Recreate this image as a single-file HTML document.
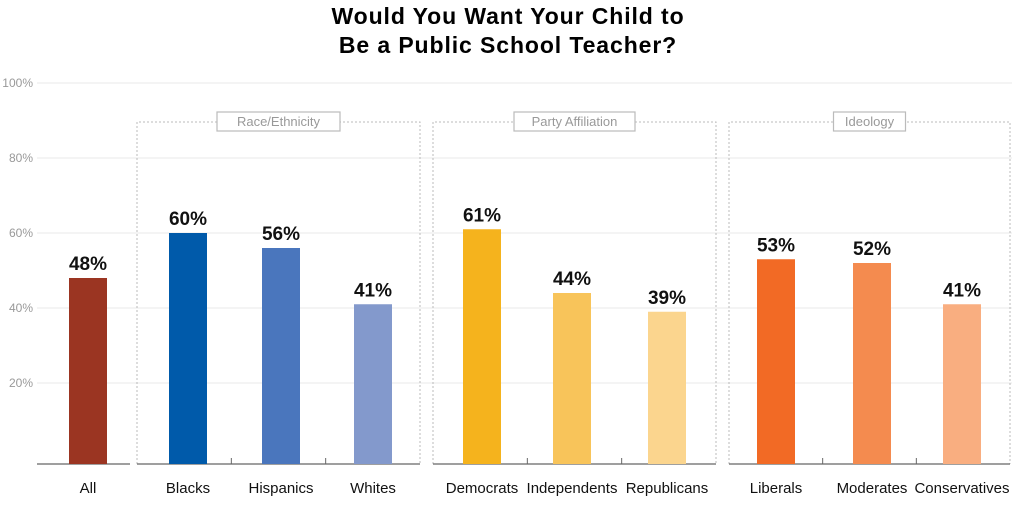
<!DOCTYPE html>
<html><head><meta charset="utf-8"><style>
body{margin:0;background:#fff;width:1017px;height:500px;overflow:hidden;font-family:"Liberation Sans",sans-serif}
</style></head><body>
<svg width="1017" height="500">
<text x="508" y="24" text-anchor="middle" font-size="23" font-weight="900" letter-spacing="0.9">Would You Want Your Child to</text>
<text x="508" y="53" text-anchor="middle" font-size="23" font-weight="900" letter-spacing="0.9">Be a Public School Teacher?</text>
<g id="grid"></g><g id="groups"></g><g id="bars"></g>
</svg>
<script>
const categories=["All","Blacks","Hispanics","Whites","Democrats","Independents","Republicans","Liberals","Moderates","Conservatives"];
const values=[48,60,56,41,61,44,39,53,52,41];
const colors=["#9b3522","#005aaa","#4a76bd","#8399cc","#f5b31d","#f8c45a","#fbd58e","#f26a25","#f48b4f","#f9ae80"];
const ticks=[20,40,60,80,100];
const groupNames=["Race/Ethnicity","Party Affiliation","Ideology"];
const NS="http://www.w3.org/2000/svg";
const barX=[69,169,262,354,463,553,648,757,853,943];
const y0=458,k=3.75,base=464;
const y=v=>y0-v*k;
function mk(t,a,p){const e=document.createElementNS(NS,t);for(const n in a)e.setAttribute(n,a[n]);p.appendChild(e);return e;}
const grid=document.getElementById('grid');
ticks.forEach(t=>{
 const l=mk('line',{x1:37,x2:1012,y1:y(t),y2:y(t),stroke:'#e8e8e8','stroke-width':1},grid);
 
 
 const tx=mk('text',{x:33,y:y(t)+4,'text-anchor':'end','font-size':12,fill:'#999'},grid);
 tx.textContent=t+'%';
 
 
});
const gEl=document.getElementById('groups');
const a=mk('line',{x1:37,x2:130,y1:base,y2:base,stroke:'#666','stroke-width':1.2},gEl);

const gx=[137,433,729],gw=[283,283,281],lw=[123,121,72];
groupNames.forEach((g,i)=>{
 const x=gx[i],w=gw[i];
 const r=mk('path',{d:`M${x},${base} V122 H${x+w} V${base}`,fill:'none',stroke:'#bbb','stroke-dasharray':'2,2'},gEl);
 
 const b=mk('line',{x1:x,x2:x+w,y1:base,y2:base,stroke:'#666','stroke-width':1.2},gEl);
 
 [1,2].forEach(j=>{const tk=mk('line',{x1:x+w*j/3,x2:x+w*j/3,y1:base-6,y2:base,stroke:'#666'},gEl);
 });
 const cx=x+w/2;
 const lb=mk('rect',{x:cx-lw[i]/2,y:112,width:lw[i],height:19,fill:'#fff',stroke:'#bbb','stroke-width':1.2},gEl);
 
 const t=mk('text',{x:cx,y:126,'text-anchor':'middle','font-size':13,fill:'#999'},gEl);
 t.textContent=g;
});
const bEl=document.getElementById('bars');
categories.forEach((c,i)=>{
 const v=values[i],x=barX[i];
 const r=mk('rect',{x:x,y:y(v),width:38,height:base-y(v),fill:colors[i]},bEl);
 
 const vt=mk('text',{x:x+19,y:y(v)-8,'text-anchor':'middle','font-size':19,'font-weight':'bold',fill:'#111'},bEl);
 vt.textContent=v+'%';
 const ct=mk('text',{x:x+19,y:493,'text-anchor':'middle','font-size':15,fill:'#111'},bEl);
 ct.textContent=c;
});
</script>
</body></html>
